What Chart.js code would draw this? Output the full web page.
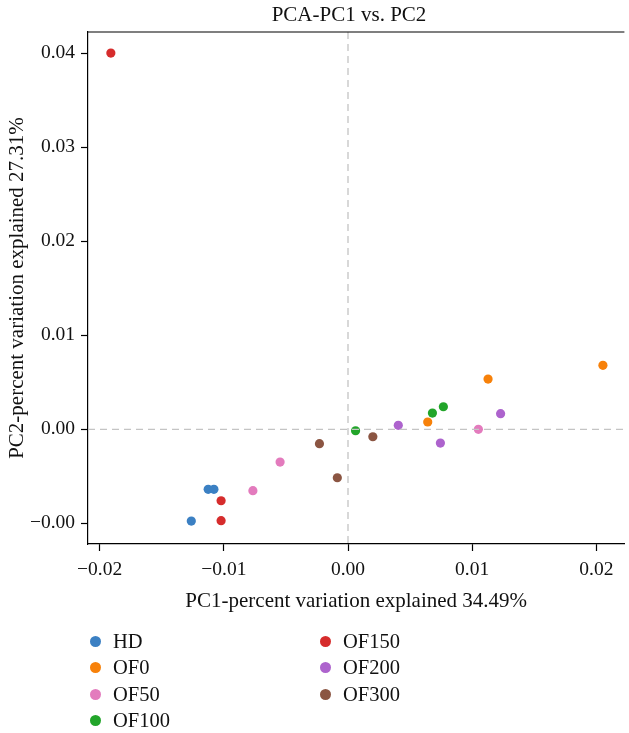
<!DOCTYPE html>
<html>
<head>
<meta charset="utf-8">
<script src="https://cdn.jsdelivr.net/npm/chart.js@4/dist/chart.umd.min.js"></script>
<style>
  html, body { margin: 0; padding: 0; background: #fff; }
  #wrap { position: relative; width: 629px; height: 733px; overflow: hidden; }
  #c { position: absolute; left: 0; top: 0; }
  #legend { position: absolute; left: 0; top: 0; width: 629px; height: 733px; pointer-events: none;
    font-family: "Liberation Serif", "DejaVu Serif", serif; font-size: 20.5px; color: #111; }
  .item { position: absolute; display: flex; align-items: center; white-space: nowrap; height: 24px; }
  .dot { width: 11px; height: 11px; border-radius: 50%; margin-right: 12px; }
</style>
</head>
<body>
<div id="wrap">
  <canvas id="c" width="629" height="630"></canvas>
  <div id="legend"></div>
</div>
<script>
// ---- Data ----
const groups = ['HD', 'OF0', 'OF50', 'OF100', 'OF150', 'OF200', 'OF300'];
const colors = ['#3b80c3', '#f7810a', '#e37bbd', '#22a52a', '#d62c2c', '#ad63cd', '#8b5542'];

const HD    = [[-0.01262, -0.00976], [-0.01126, -0.00638], [-0.01080, -0.00638]];
const OF0   = [[0.02053, 0.00681], [0.01128, 0.00535], [0.00642, 0.00078]];
const OF50  = [[0.01050, 0.00000], [-0.00547, -0.00348], [-0.00766, -0.00653]];
const OF100 = [[0.00061, -0.00015], [0.00680, 0.00173], [0.00768, 0.00240]];
const OF150 = [[-0.01910, 0.04003], [-0.01022, -0.00760], [-0.01022, -0.00972]];
const OF200 = [[0.00405, 0.00043], [0.00744, -0.00146], [0.01229, 0.00166]];
const OF300 = [[-0.00230, -0.00153], [-0.00086, -0.00515], [0.00200, -0.00079]];
const seriesValues = [HD, OF0, OF50, OF100, OF150, OF200, OF300];

const xTickValues = [-0.02, -0.01, 0.00, 0.01, 0.02];
const xTickLabels = ['\u22120.02', '\u22120.01', '0.00', '0.01', '0.02'];
const yTickValues = [-0.01, 0.00, 0.01, 0.02, 0.03, 0.04];
const yTickLabels = ['\u22120.00', '0.00', '0.01', '0.02', '0.03', '0.04'];

const chartTitle = 'PCA-PC1 vs. PC2';
const xTitle = 'PC1-percent variation explained 34.49%';
const yTitle = 'PC2-percent variation explained 27.31%';

// ---- Chart ----
const FONT = '"Liberation Serif", "DejaVu Serif", serif';

const datasets = groups.map((g, i) => ({
  label: g,
  data: seriesValues[i].map(p => ({ x: p[0], y: p[1] })),
  backgroundColor: colors[i],
  borderColor: colors[i],
  borderWidth: 0,
  pointRadius: 4.6,
  pointHoverRadius: 4.6
}));

const framePlugin = {
  id: 'frame',
  afterDatasetsDraw(chart) {
    const { ctx, chartArea: a, scales } = chart;
    ctx.save();
    // dashed zero lines (drawn over points)
    ctx.strokeStyle = '#c4c4c4';
    ctx.lineWidth = 1.3;
    ctx.setLineDash([7, 5]);
    const x0 = scales.x.getPixelForValue(0);
    const y0 = scales.y.getPixelForValue(0);
    ctx.beginPath();
    ctx.moveTo(x0, a.top); ctx.lineTo(x0, a.bottom);
    ctx.moveTo(a.left, y0); ctx.lineTo(a.right, y0);
    ctx.stroke();
    ctx.setLineDash([]);
    // top frame line
    ctx.strokeStyle = '#000';
    ctx.lineWidth = 1.2;
    ctx.beginPath();
    ctx.moveTo(a.left, a.top); ctx.lineTo(a.right, a.top);
    ctx.stroke();
    // title
    ctx.fillStyle = '#111';
    ctx.font = '21px ' + FONT;
    ctx.textAlign = 'center';
    ctx.textBaseline = 'middle';
    ctx.fillText(chartTitle, 349, 15);
    ctx.restore();
  }
};

new Chart(document.getElementById('c'), {
  type: 'scatter',
  data: { datasets },
  options: {
    responsive: false,
    animation: false,
    events: [],
    layout: { padding: { left: 0, right: 0, top: 32, bottom: 0 } },
    plugins: { legend: { display: false }, tooltip: { enabled: false }, title: { display: false } },
    scales: {
      x: {
        type: 'linear',
        min: -0.02094, max: 0.02226,
        afterBuildTicks: s => { s.ticks = xTickValues.map(v => ({ value: v })); },
        afterFit: s => { s.height = 630 - 544; },
        ticks: {
          color: '#111', font: { family: FONT, size: 19.5 }, padding: 7,
          maxRotation: 0, autoSkip: false,
          callback: (v) => { const i = xTickValues.findIndex(t => Math.abs(t - v) < 1e-9); return i >= 0 ? xTickLabels[i] : ''; }
        },
        grid: { drawOnChartArea: false, drawTicks: true, tickLength: 7, tickColor: '#000', tickWidth: 1.2 },
        border: { display: true, color: '#000', width: 1.2 },
        title: { display: true, text: xTitle, color: '#111', font: { family: FONT, size: 21 }, padding: { top: 4, bottom: 16 } }
      },
      y: {
        type: 'linear',
        min: -0.0122, max: 0.04227,
        afterBuildTicks: s => { s.ticks = yTickValues.map(v => ({ value: v })); },
        afterFit: s => { s.width = 88; },
        ticks: {
          color: '#111', font: { family: FONT, size: 19.5 }, padding: 6, autoSkip: false,
          callback: (v) => { const i = yTickValues.findIndex(t => Math.abs(t - v) < 1e-9); return i >= 0 ? yTickLabels[i] : ''; }
        },
        grid: { drawOnChartArea: false, drawTicks: true, tickLength: 7, tickColor: '#000', tickWidth: 1.2 },
        border: { display: true, color: '#000', width: 1.2 },
        title: { display: true, text: yTitle, color: '#111', font: { family: FONT, size: 21 }, padding: { top: 5, bottom: 2 } }
      }
    }
  },
  plugins: [framePlugin]
});

// ---- HTML legend (column-major, 4 rows) ----
const legend = document.getElementById('legend');
const rowsPerCol = 4;
groups.forEach((g, i) => {
  const col = Math.floor(i / rowsPerCol), row = i % rowsPerCol;
  const el = document.createElement('div');
  el.className = 'item';
  el.style.left = (col === 0 ? 90 : 320) + 'px';
  el.style.top = (629 + row * 26.5) + 'px';
  el.innerHTML = '<span class="dot" style="background:' + colors[i] + '"></span><span>' + g + '</span>';
  legend.appendChild(el);
});
</script>
</body>
</html>
